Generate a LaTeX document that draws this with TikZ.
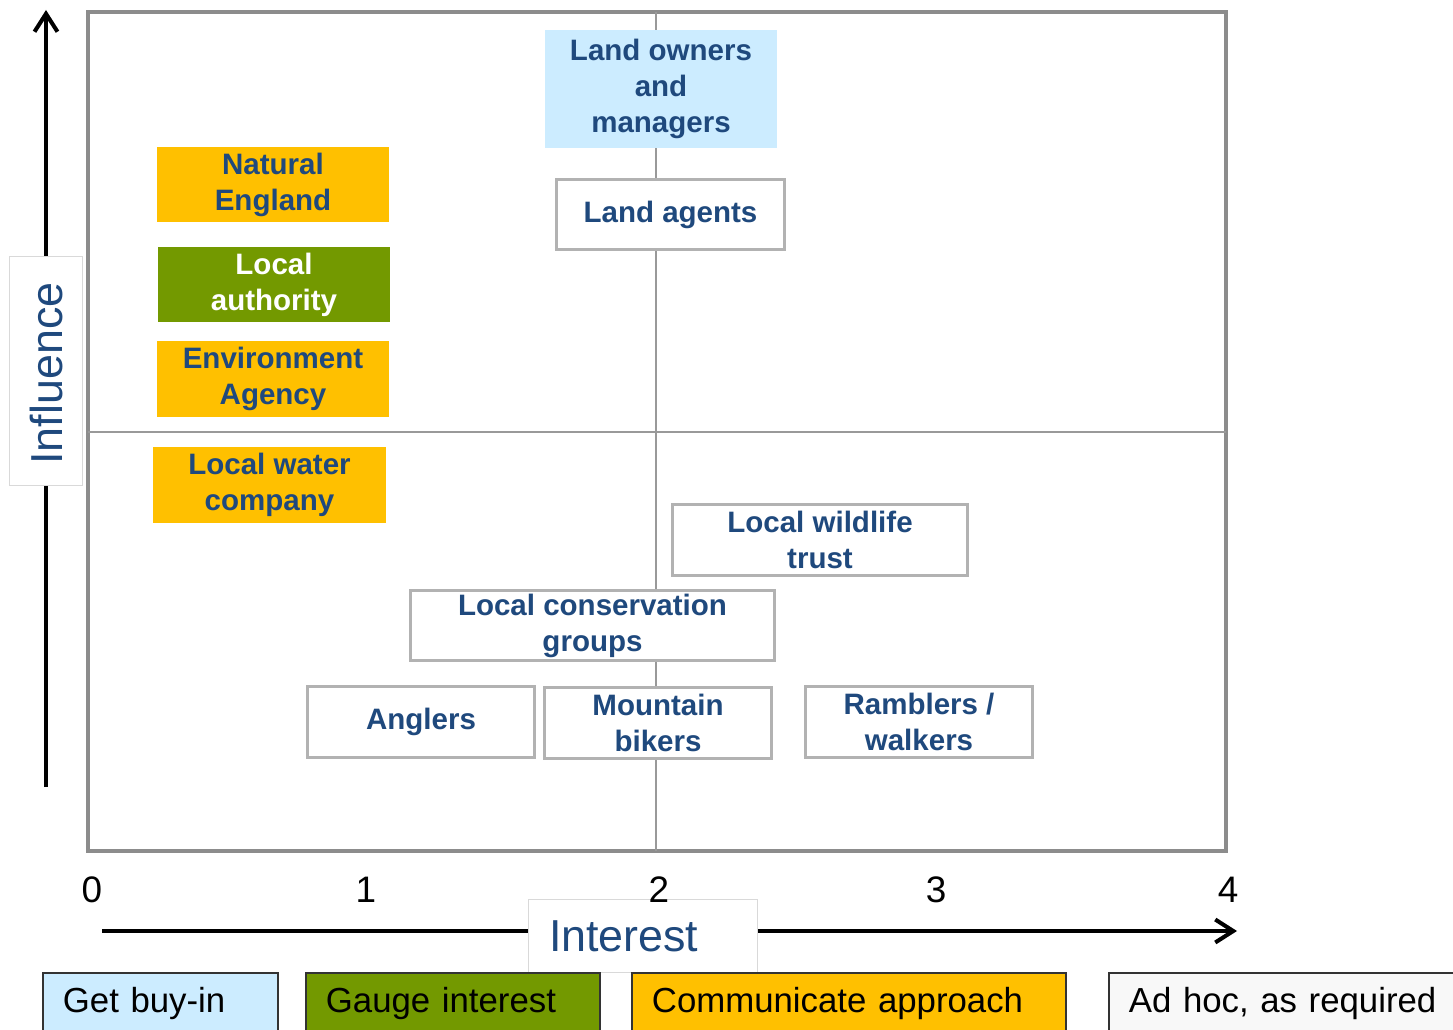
\documentclass[tikz,border=0pt]{standalone}
\usepackage{fontspec}
\setmainfont{Liberation Sans}
\usetikzlibrary{arrows.meta}
\definecolor{stkblue}{RGB}{31,73,125}
\definecolor{buyin}{RGB}{204,236,255}
\definecolor{gauge}{RGB}{115,153,0}
\definecolor{comm}{RGB}{255,192,0}
\definecolor{adhoc}{RGB}{248,248,248}
\tikzset{
  stk/.style={align=center, font=\bfseries\fontsize{16.8}{20.5}\selectfont, text=stkblue,
              inner sep=0pt, minimum width=4.64cm, minimum height=1.5cm},
  sbuy/.style={stk, fill=buyin},
  sgauge/.style={stk, fill=gauge, text=white},
  scomm/.style={stk, fill=comm},
  sadhoc/.style={stk, fill=white, draw=black!30, line width=1.7pt},   % white boxes, grey rim
  key/.style={anchor=north west, draw=black!80, line width=1pt, align=left,
              font=\fontsize{19.8}{24}\selectfont, inner xsep=0.4cm, minimum height=1.24cm},
  axlbl/.style={fill=white, draw=black!15, line width=0.5pt, align=left, text=stkblue,
                font=\fontsize{25.5}{30}\selectfont, inner xsep=0.42cm, text width=3.74cm,
                minimum height=1.46cm},
  axarr/.style={-{Straight Barb[length=3.6mm, width=4.6mm]}, line width=2.3pt},
  midln/.style={draw=black!40, line width=1.2pt},
  tick/.style={font=\fontsize{21}{24}\selectfont},
}

\begin{document}
\begin{tikzpicture}[x=0.02cm, y=-0.02cm]
  \useasboundingbox (0,0) rectangle (1453,1030);

  % grid frame and quadrant lines
  \draw[draw=black!45, line width=2pt] (88,12) rectangle (1226,851);
  \draw[midln] (656,12) -- (656,851);
  \draw[midln] (88,432) -- (1226,432);

  % stakeholders
  \node[sbuy, minimum height=2.36cm](own) at (661,89){Land owners\\and\\managers};
  \node[sadhoc, minimum width=4.56cm, minimum height=1.4cm](agt) at (670.5,214.5){Land agents};
  \node[scomm](ne) at (273,184.5){Natural\\England};
  \node[sgauge](la) at (274,284.5){Local\\authority};
  \node[scomm, minimum height=1.52cm](ea) at (273,379){Environment\\Agency};
  \node[scomm, minimum width=4.66cm, minimum height=1.52cm](lw) at (269.5,485){Local water\\company};
  \node[sadhoc, minimum width=5.9cm, minimum height=1.42cm](wt) at (820,540){Local wildlife\\trust};
  \node[sadhoc, minimum width=7.28cm, minimum height=1.4cm](cg) at (592.5,625.5){Local conservation\\groups};
  \node[sadhoc, minimum width=4.54cm, minimum height=1.42cm](ang) at (421,722){Anglers};
  \node[sadhoc, minimum width=4.54cm, minimum height=1.42cm](mb) at (658,723){Mountain\\bikers};
  \node[sadhoc, minimum width=4.54cm, minimum height=1.42cm](rw) at (919,722){Ramblers /\\walkers};

  % axes
  \coordinate (y0) at (46,787);
  \coordinate (y1) at (46,10);
  \coordinate (x0) at (102,931);
  \coordinate (x1) at (1237,931);
  \draw[axarr] (y0) -- (y1);
  \draw[axarr] (x0) -- (x1);
  \node[axlbl, rotate=90](infl) at (46,371){Influence};
  \node[axlbl](intr) at (642.5,936){Interest};
  \foreach \n/\x in {0/92, 1/366, 2/659, 3/936, 4/1228}
    \node[tick](t\n) at (\x,890){\n};

  % key
  \node[key, fill=buyin, text width=3.9cm](kbuy) at (42,972){Get buy-in};
  \node[key, fill=gauge, text width=5.08cm](kgauge) at (305,972){Gauge interest};
  \node[key, fill=comm, text width=7.88cm](kcomm) at (631,972){Communicate approach};
  \node[key, fill=adhoc, text width=6.6cm](kadhoc) at (1108,972){Ad hoc, as required};
\end{tikzpicture}
\end{document}
